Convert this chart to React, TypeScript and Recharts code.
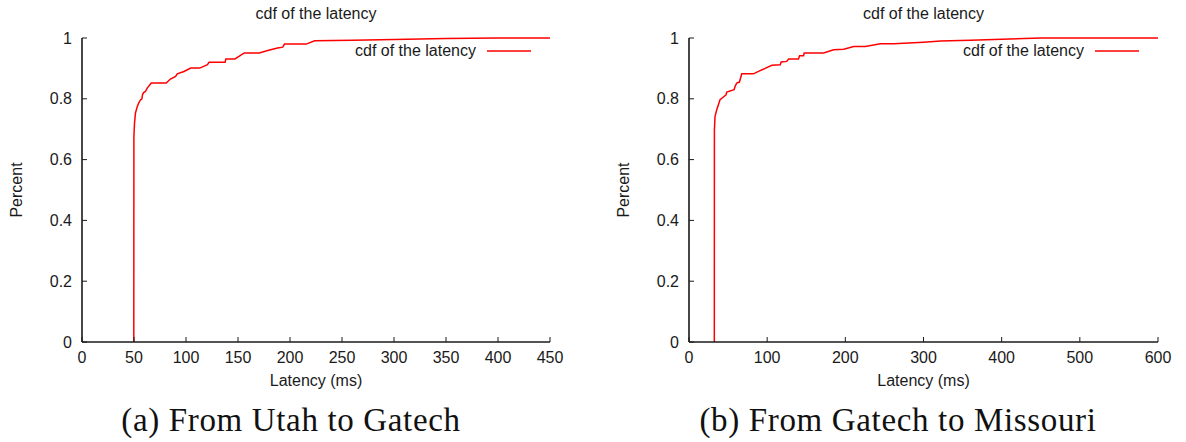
import React from 'react'
import { LineChart, Line, XAxis, YAxis, Legend } from 'recharts'

// (a) Utah -> Gatech
const utahLatency = [49.8, 49.9, 50.5, 51.4, 53, 54.5, 56.3, 57.5, 58.3, 59.5, 61, 62.7, 66.6, 81, 85, 90, 91.6, 98, 104.5, 113.2, 120.6, 122.2, 137.6, 138.3, 147, 151.3, 156, 170.5, 178.6, 188, 193, 194.7, 215.6, 223.7, 260, 300, 350, 400, 450]
const utahCdf = [0, 0.676, 0.72, 0.753, 0.773, 0.786, 0.797, 0.799, 0.815, 0.821, 0.824, 0.835, 0.852, 0.852, 0.865, 0.874, 0.882, 0.89, 0.901, 0.901, 0.912, 0.92, 0.92, 0.931, 0.931, 0.94, 0.951, 0.951, 0.959, 0.967, 0.97, 0.98, 0.98, 0.991, 0.993, 0.995, 0.998, 1, 1]
const utahTicks = [0, 50, 100, 150, 200, 250, 300, 350, 400, 450]

// (b) Gatech -> Missouri
const missouriLatency = [32.4, 32.5, 33.3, 35.5, 39.7, 44, 47.4, 48.3, 57.7, 59, 61.1, 64.5, 67.5, 82.5, 88.9, 97.4, 106, 116.7, 117.9, 125, 127.4, 140, 141.5, 146.6, 147.4, 172.2, 185, 197.9, 210.7, 225.6, 244.9, 262, 300, 322, 360, 400, 450, 600]
const missouriCdf = [0, 0.698, 0.742, 0.764, 0.797, 0.806, 0.813, 0.822, 0.83, 0.841, 0.852, 0.855, 0.882, 0.882, 0.89, 0.9, 0.91, 0.912, 0.921, 0.923, 0.931, 0.931, 0.942, 0.942, 0.951, 0.951, 0.961, 0.963, 0.972, 0.972, 0.981, 0.981, 0.986, 0.99, 0.993, 0.996, 1, 1]
const missouriTicks = [0, 100, 200, 300, 400, 500, 600]

const percentTicks = [0, 0.2, 0.4, 0.6, 0.8, 1]

const SANS = '"Liberation Sans", Arial, Helvetica, sans-serif'
const SERIF = '"Liberation Serif", "Times New Roman", serif'
const INK = '#1a1a1a'
const RED = '#ff0000'
const TICK = 5
const axisLine = { stroke: INK, strokeWidth: 1.6 }

// gnuplot style: ticks point into the plot, labels outside
const BottomTick = ({ x, y, payload }: any) => (
  <g>
    <line x1={x} x2={x} y1={y} y2={y - TICK} stroke={INK} strokeWidth={1} />
    <text x={x} y={y + 20.5} textAnchor="middle" fill={INK} style={{ fontFamily: SANS, fontSize: 16 }}>
      {payload.value}
    </text>
  </g>
)

const TopTick = ({ x, y }: any) => (
  <line x1={x} x2={x} y1={y} y2={y + TICK} stroke={INK} strokeWidth={1} />
)

const LeftTick = ({ x, y, payload }: any) => (
  <g>
    <line x1={x} x2={x + TICK} y1={y} y2={y} stroke={INK} strokeWidth={1} />
    <text x={x - 10} y={y + 5.5} textAnchor="end" fill={INK} style={{ fontFamily: SANS, fontSize: 16 }}>
      {payload.value}
    </text>
  </g>
)

const RightTick = ({ x, y }: any) => (
  <line x1={x} x2={x - TICK} y1={y} y2={y} stroke={INK} strokeWidth={1} />
)

interface PanelProps {
  latency: number[]
  cdf: number[]
  xTicks: number[]
  xMax: number
  left: number
  marginLeft: number
  marginRight: number
  caption: string
  captionCenter: number
}

const CHART_W = 593
const CHART_H = 442
const Y_AXIS_W = 60
const X_AXIS_H = 30
const PLOT_TOP = 38
const PLOT_BOTTOM = 342

const CdfPanel: React.FC<PanelProps> = ({ latency, cdf, xTicks, xMax, left, marginLeft, marginRight, caption, captionCenter }) => {
  const data = latency.map((ms, i) => ({ ms, cdf: cdf[i] }))
  const plotCenter = left + marginLeft + (CHART_W - marginLeft - marginRight) / 2

  const renderLegend = (props: any) => {
    const { payload } = props
    return (
      <div>
        {payload.map((entry: any, index: number) => (
          <div key={`legend-${index}`} style={{ display: 'flex', alignItems: 'center', fontFamily: SANS, fontSize: 16, color: INK, lineHeight: '18px' }}>
            <span>{entry.value}</span>
            <svg width={44} height={4} style={{ marginLeft: 11 }}>
              <line x1={0} x2={44} y1={2} y2={2} stroke={RED} strokeWidth={1.5} />
            </svg>
          </div>
        ))}
      </div>
    )
  }

  return (
    <>
      <div style={{ position: 'absolute', left, top: 0 }}>
        <LineChart
          width={CHART_W}
          height={CHART_H}
          data={data}
          margin={{ top: PLOT_TOP, left: marginLeft - Y_AXIS_W, right: marginRight, bottom: CHART_H - PLOT_BOTTOM - X_AXIS_H }}
        >
          <XAxis
            xAxisId="bottom"
            dataKey="ms"
            type="number"
            domain={[0, xMax]}
            ticks={xTicks}
            interval={0}
            height={X_AXIS_H}
            tickSize={0}
            tickMargin={0}
            axisLine={axisLine}
            tickLine={false}
            tick={BottomTick}
            label={(p: any) => (
              <text x={p.viewBox.x + p.viewBox.width / 2} y={p.viewBox.y + 44} textAnchor="middle" fill={INK} style={{ fontFamily: SANS, fontSize: 16 }}>
                Latency (ms)
              </text>
            )}
          />
          <XAxis
            xAxisId="top"
            orientation="top"
            dataKey="ms"
            type="number"
            domain={[0, xMax]}
            ticks={xTicks}
            interval={0}
            height={0}
            tickSize={0}
            tickMargin={0}
            axisLine={axisLine}
            tickLine={false}
            tick={TopTick}
          />
          <YAxis
            yAxisId="left"
            type="number"
            domain={[0, 1]}
            ticks={percentTicks}
            interval={0}
            width={Y_AXIS_W}
            tickSize={0}
            tickMargin={0}
            axisLine={axisLine}
            tickLine={false}
            tick={LeftTick}
            label={(p: any) => {
              const cx = p.viewBox.x + p.viewBox.width - 66
              const cy = p.viewBox.y + p.viewBox.height / 2
              return (
                <text x={cx} y={cy} transform={`rotate(-90, ${cx}, ${cy})`} textAnchor="middle" dominantBaseline="central" fill={INK} style={{ fontFamily: SANS, fontSize: 16 }}>
                  Percent
                </text>
              )
            }}
          />
          <YAxis
            yAxisId="right"
            orientation="right"
            type="number"
            domain={[0, 1]}
            ticks={percentTicks}
            interval={0}
            width={0}
            tickSize={0}
            tickMargin={0}
            axisLine={axisLine}
            tickLine={false}
            tick={RightTick}
          />
          <Legend
            layout="horizontal"
            verticalAlign="middle"
            content={renderLegend}
            wrapperStyle={{ top: 42, right: marginRight + 19, left: 'auto', width: 'auto' }}
          />
          <Line
            xAxisId="bottom"
            yAxisId="left"
            type="linear"
            dataKey="cdf"
            name="cdf of the latency"
            stroke={RED}
            strokeWidth={1.5}
            dot={false}
            activeDot={false}
            isAnimationActive={false}
          />
        </LineChart>
      </div>
      {/* plot title */}
      <div
        style={{
          position: 'absolute',
          left: plotCenter - 150,
          width: 300,
          top: 5,
          textAlign: 'center',
          fontFamily: SANS,
          fontSize: 16,
          lineHeight: '18px',
          color: INK,
        }}
      >
        cdf of the latency
      </div>
      {/* sub-figure caption */}
      <div
        style={{
          position: 'absolute',
          left: captionCenter - 300,
          width: 600,
          top: 402,
          textAlign: 'center',
          fontFamily: SERIF,
          fontSize: 33,
          lineHeight: '36px',
          letterSpacing: 0.65,
          color: '#111',
          whiteSpace: 'nowrap',
        }}
      >
        {caption}
      </div>
    </>
  )
}

export default function App() {
  return (
    <div style={{ position: 'absolute', left: 0, top: 0, width: 1186, height: 442, background: '#fff', overflow: 'hidden' }}>
      <CdfPanel
        latency={utahLatency}
        cdf={utahCdf}
        xTicks={utahTicks}
        xMax={450}
        left={0}
        marginLeft={82}
        marginRight={43}
        caption="(a) From Utah to Gatech"
        captionCenter={291}
      />
      <CdfPanel
        latency={missouriLatency}
        cdf={missouriCdf}
        xTicks={missouriTicks}
        xMax={600}
        left={593}
        marginLeft={96}
        marginRight={28}
        caption="(b) From Gatech to Missouri"
        captionCenter={898}
      />
    </div>
  )
}
